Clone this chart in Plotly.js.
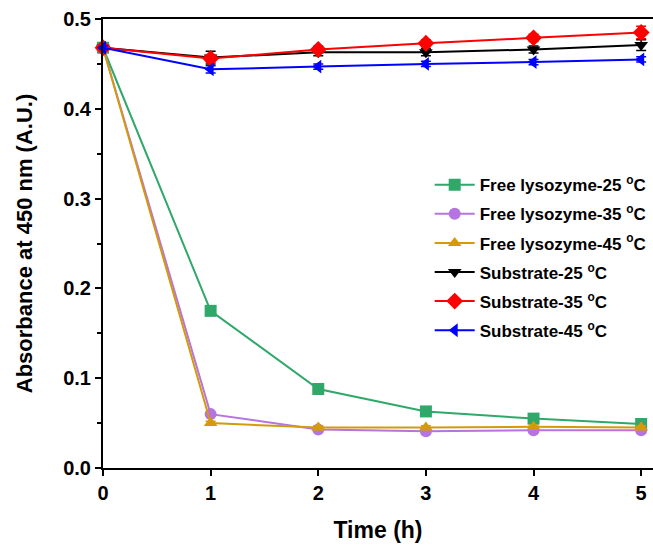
<!DOCTYPE html>
<html>
<head>
<meta charset="utf-8">
<script src="https://cdn.plot.ly/plotly-3.0.1.min.js"></script>
<style>html,body{margin:0;padding:0;background:#fff;}#chart{width:653px;height:549px;}</style>
</head>
<body>
<div id="chart"></div>
<script>
const time = [0, 1, 2, 3, 4, 5];
const names = ["Free lysozyme-25 <sup>o</sup>C", "Free lysozyme-35 <sup>o</sup>C", "Free lysozyme-45 <sup>o</sup>C",
               "Substrate-25 <sup>o</sup>C", "Substrate-35 <sup>o</sup>C", "Substrate-45 <sup>o</sup>C"];
const free25 = [0.468, 0.175, 0.088, 0.063, 0.055, 0.049];
const free35 = [0.468, 0.060, 0.043, 0.041, 0.042, 0.042];
const free45 = [0.468, 0.050, 0.045, 0.045, 0.046, 0.045];
const sub25  = [0.468, 0.457, 0.463, 0.463, 0.466, 0.471];
const sub35  = [0.468, 0.456, 0.466, 0.473, 0.479, 0.485];
const sub45  = [0.468, 0.444, 0.447, 0.450, 0.452, 0.455];
const free25Err = [0.002, 0.002, 0.002, 0.002, 0.002, 0.002];
const free35Err = [0.002, 0.002, 0.002, 0.002, 0.002, 0.002];
const free45Err = [0.002, 0.002, 0.002, 0.002, 0.002, 0.002];
const sub25Err  = [0.002, 0.007, 0.004, 0.004, 0.004, 0.006];
const sub35Err  = [0.003, 0.004, 0.004, 0.004, 0.004, 0.007];
const sub45Err  = [0.002, 0.004, 0.003, 0.003, 0.003, 0.003];

const series = [free25, free35, free45, sub25, sub35, sub45];
const errs = [free25Err, free35Err, free45Err, sub25Err, sub35Err, sub45Err];
const colors = ["#2fa86a", "#b574e0", "#d39b0c", "#000000", "#ff0000", "#0000ff"];
const symbols = ["square", "circle", "triangle-up", "triangle-down", "diamond", "triangle-left"];

const traces = series.map((y, i) => ({
  x: time, y: y, name: names[i], type: "scatter", mode: "lines+markers",
  legendgroup: "g" + i,
  line: {color: colors[i], width: 2},
  marker: {color: colors[i], symbol: symbols[i], size: i === 4 ? 13 : 12},
  error_y: {type: "data", array: errs[i], visible: true, color: colors[i], thickness: 1.5, width: 5},
  cliponaxis: false
}));

const font = {family: "Liberation Sans, Arial, sans-serif", color: "#000"};
Plotly.newPlot("chart", traces, {
  width: 653, height: 549,
  margin: {l: 103, r: 0, t: 19, b: 81},
  paper_bgcolor: "#fff", plot_bgcolor: "#fff",
  showlegend: true,
  legend: {x: 0.594, y: 0.67, xanchor: "left", yanchor: "top", bgcolor: "rgba(0,0,0,0)",
           font: {family: font.family, size: 17, color: "#000", weight: "bold"}, tracegroupgap: 4, itemwidth: 40},
  xaxis: {
    range: [0, 5.11], tickvals: time, ticktext: ["<b>0</b>","<b>1</b>","<b>2</b>","<b>3</b>","<b>4</b>","<b>5</b>"],
    ticks: "outside", ticklen: 6, tickwidth: 2, tickcolor: "#000",
    showline: true, linewidth: 2, linecolor: "#000", mirror: true, showgrid: false, zeroline: false,
    tickfont: {family: font.family, size: 20, color: "#000"},
    title: {text: "<b>Time (h)</b>", font: {family: font.family, size: 23, color: "#000"}, standoff: 19}
  },
  yaxis: {
    range: [0, 0.5], tickvals: [0, 0.1, 0.2, 0.3, 0.4, 0.5],
    ticktext: ["<b>0.0</b>","<b>0.1</b>","<b>0.2</b>","<b>0.3</b>","<b>0.4</b>","<b>0.5</b>"],
    ticks: "outside", ticklen: 6, tickwidth: 2, tickcolor: "#000",
    minor: {dtick: 0.05, ticks: "outside", ticklen: 4, tickwidth: 2, tickcolor: "#000", showgrid: false},
    showline: true, linewidth: 2, linecolor: "#000", showgrid: false, zeroline: false,
    tickfont: {family: font.family, size: 20, color: "#000"},
    title: {text: "<b>Absorbance at 450 nm (A.U.)</b>", font: {family: font.family, size: 22, color: "#000"}, standoff: 24}
  }
}, {staticPlot: true});
</script>
</body>
</html>
